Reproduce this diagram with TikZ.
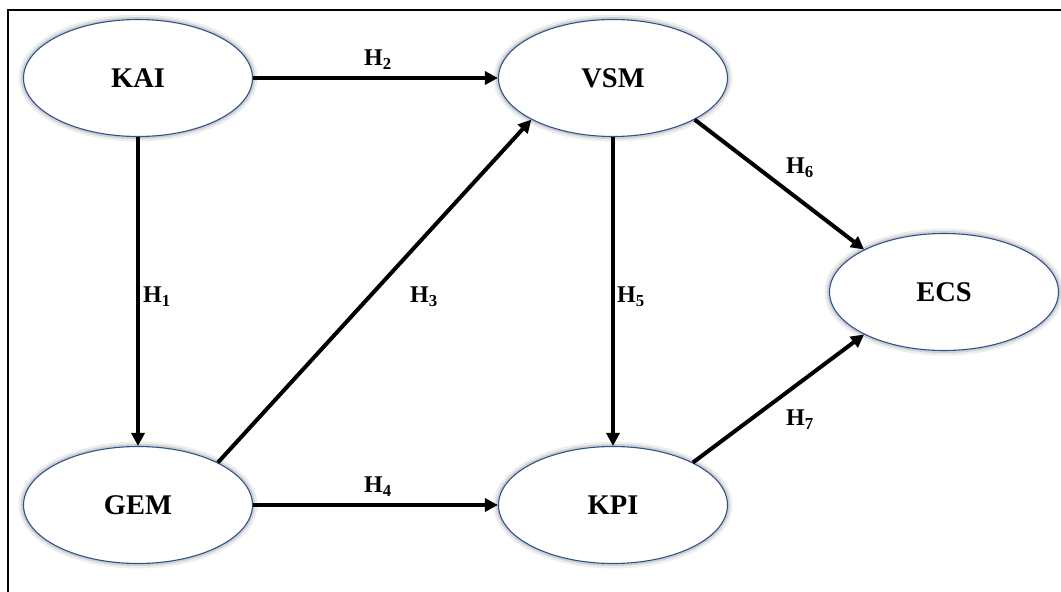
\documentclass[tikz,border=0pt]{standalone}
\usepackage{fontspec}
\setmainfont{Liberation Serif}
\usetikzlibrary{shapes.geometric,arrows.meta}
\definecolor{ellblue}{RGB}{47,82,143}
\tikzset{
  latent/.style={ellipse, draw=ellblue, line width=1.1pt, fill=white,
    minimum width=229pt, minimum height=117pt, inner sep=0pt,
    font=\fontsize{28.5}{32}\selectfont\bfseries},
  glowA/.style={ellipse, draw=black, draw opacity=0.07, line width=10pt,
    minimum width=229pt, minimum height=117pt, inner sep=0pt},
  glowB/.style={ellipse, draw=black, draw opacity=0.12, line width=5pt,
    minimum width=229pt, minimum height=117pt, inner sep=0pt},
  path/.style={line width=4pt, -{Triangle[length=13pt,width=13pt]}},
  hlabel/.style={font=\fontsize{24}{27}\selectfont\bfseries, inner sep=0pt},
}
\begin{document}
\begin{tikzpicture}[x=1pt,y=-1pt]
\useasboundingbox (0,0) rectangle (1061,592);
\fill[white] (0,0) rectangle (1061,592);
\draw[line width=2pt] (8,592) -- (8,10) -- (1061,10);
% glows
\foreach \p in {(138,78),(613,78),(944,292),(138,505),(613,505)} {
  \node[glowA] at \p {};
  \node[glowB] at \p {};
}
\node[latent] (KAI) at (138,78) {KAI};
\node[latent] (VSM) at (613,78) {VSM};
\node[latent] (ECS) at (944,292) {ECS};
\node[latent] (GEM) at (138,505) {GEM};
\node[latent] (KPI) at (613,505) {KPI};
\draw[path] (KAI.south) -- (GEM.north);
\draw[path] (KAI.east) -- (VSM.west);
\draw[path] (GEM.28) -- (VSM.207);
\draw[path] (GEM.east) -- (KPI.west);
\draw[path] (VSM.south) -- (KPI.north);
\draw[path] (VSM.-27) -- (ECS.152);
\draw[path] (KPI.28) -- (ECS.208);
\node[hlabel] (h1) at (157,297) {H\textsubscript{1}};
\node[hlabel] (h2) at (378,60) {H\textsubscript{2}};
\node[hlabel] (h3) at (424,297) {H\textsubscript{3}};
\node[hlabel] (h4) at (378,487) {H\textsubscript{4}};
\node[hlabel] (h5) at (631,297) {H\textsubscript{5}};
\node[hlabel] (h6) at (800,168) {H\textsubscript{6}};
\node[hlabel] (h7) at (800,420) {H\textsubscript{7}};
\end{tikzpicture}
\end{document}
